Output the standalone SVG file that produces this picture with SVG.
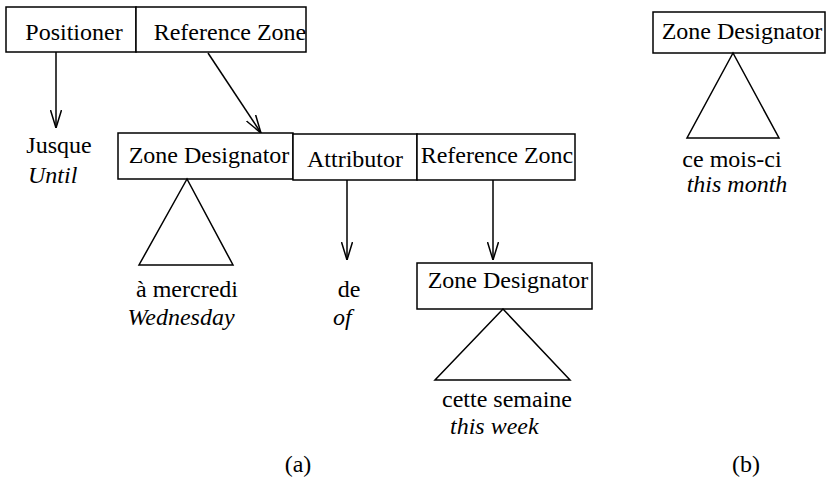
<svg xmlns="http://www.w3.org/2000/svg" width="831" height="497" viewBox="0 0 831 497">
<style>
.box{fill:#fff;stroke:#000;stroke-width:1.5}
.tri{fill:none;stroke:#000;stroke-width:1.5;stroke-linejoin:miter}
text{font-family:'Liberation Serif','DejaVu Serif',serif;font-size:24px;fill:#000}
.t{text-anchor:middle}
.i{font-style:italic}
.edge{stroke:#000;stroke-width:1.5;fill:none;marker-end:url(#arr)}
</style>
<defs>
<marker id="arr" markerUnits="userSpaceOnUse" viewBox="0 0 18 12" refX="18" refY="6" markerWidth="18" markerHeight="12" orient="auto">
<path d="M0,0.5 L18,6 L0,11.5" fill="none" stroke="#000" stroke-width="1.5"/>
</marker>
</defs>
<rect width="831" height="497" fill="#fff"/>

<g id="connectors">
<line class="edge" x1="56" y1="52" x2="56" y2="128"/>
<line class="edge" x1="208" y1="53" x2="261" y2="133"/>
<line class="edge" x1="347" y1="180" x2="347" y2="260"/>
<line class="edge" x1="493" y1="180" x2="493" y2="260"/>
</g>

<g id="positioner">
<rect class="box" x="6" y="7" width="130" height="45"/>
<text class="t" x="74" y="40">Positioner</text>
</g>
<g id="reference-zone-top">
<rect class="box" x="136" y="7" width="170" height="45"/>
<text class="t" x="230" y="40">Reference Zone</text>
</g>
<g id="jusque">
<text class="t" x="59" y="153">Jusque</text>
<text class="i" x="28" y="183">Until</text>
</g>

<g id="zone-designator-1">
<rect class="box" x="118" y="133" width="175" height="46"/>
<text class="t" x="209" y="163">Zone Designator</text>
<polygon class="tri" points="187,179 139,265 233,265"/>
<text class="t" x="187" y="297">à mercredi</text>
<text class="t i" x="181" y="325">Wednesday</text>
</g>
<g id="attributor">
<rect class="box" x="293" y="134" width="124" height="46"/>
<text class="t" x="355" y="167">Attributor</text>
</g>
<g id="de">
<text class="t" x="349" y="297">de</text>
<text class="i" x="333" y="325">of</text>
</g>
<g id="reference-zone-2">
<rect class="box" x="417" y="134" width="158" height="46"/>
<text class="t" x="497" y="163">Reference Zonc</text>
</g>
<g id="zone-designator-2">
<rect class="box" x="417" y="263" width="175" height="46"/>
<text class="t" x="508" y="288">Zone Designator</text>
<polygon class="tri" points="503,309 435,380 570,380"/>
<text class="t" x="507" y="407">cette semaine</text>
<text class="i" x="450" y="434">this week</text>
</g>

<g id="zone-designator-b">
<rect class="box" x="653" y="12" width="172" height="41"/>
<text class="t" x="742" y="39">Zone Designator</text>
<polygon class="tri" points="733,53 687,138 779,138"/>
<text class="t" x="732" y="167">ce mois-ci</text>
<text class="t i" x="737" y="192">this month</text>
</g>

<g id="labels">
<text class="t" x="298" y="472">(a)</text>
<text class="t" x="746" y="472">(b)</text>
</g>
</svg>
